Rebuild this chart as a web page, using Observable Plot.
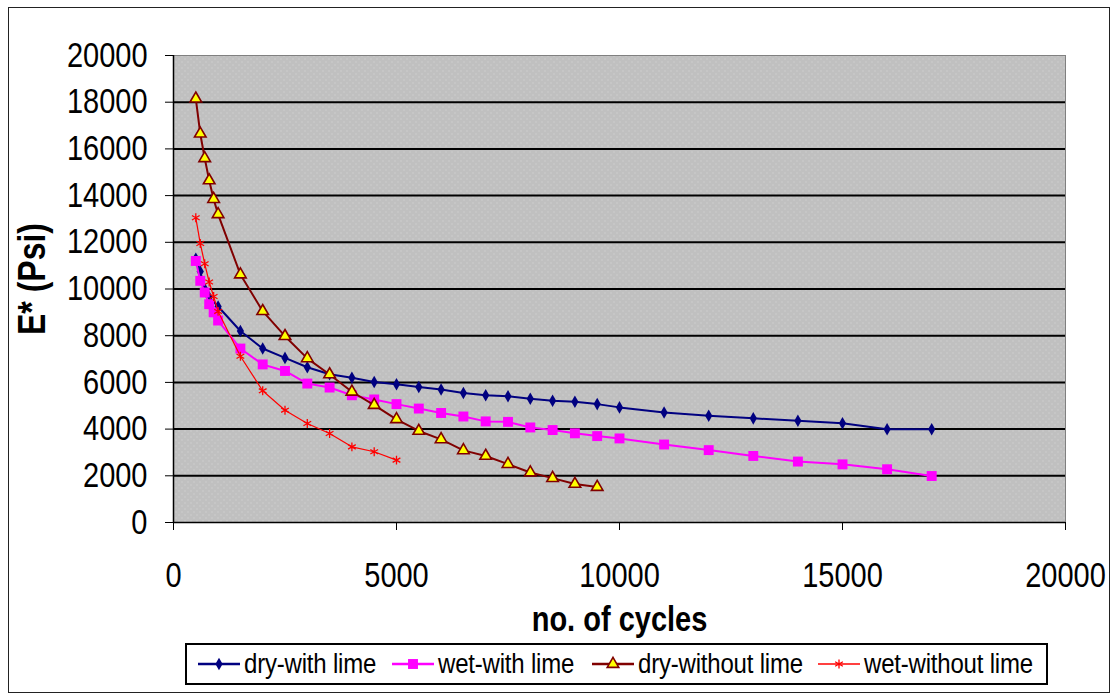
<!DOCTYPE html>
<html>
<head>
<meta charset="utf-8">
<script src="https://cdn.jsdelivr.net/npm/d3@7"></script>
<script src="https://cdn.jsdelivr.net/npm/@observablehq/plot@0.6"></script>
<style>
  html, body { margin: 0; padding: 0; background: #fff; }
  #wrap { position: relative; width: 1118px; height: 696px; overflow: hidden; font-family: "Liberation Sans", Arial, sans-serif; }
  #outer { position: absolute; left: 8px; top: 7px; width: 1102px; height: 686px; border: 1px solid #222; box-sizing: border-box; pointer-events: none; }
  #chart { position: absolute; left: 0; top: 0; }
  #legend { position: absolute; left: 185px; top: 643px; width: 863px; height: 42px; border: 2px solid #000; box-sizing: border-box; background: #fff; }
  .item { position: absolute; top: 0; height: 38px; display: flex; align-items: center; }
  .item span { display: inline-block; font-size: 24px; color: #000; white-space: nowrap; transform: scaleY(1.12); letter-spacing: -0.2px; }
  .item svg { margin-right: 3px; }
</style>
</head>
<body>
<svg width="0" height="0" style="position:absolute">
  <defs>
    <pattern id="dots" width="6" height="6" patternUnits="userSpaceOnUse">
      <rect width="6" height="6" fill="#c0c0c0"></rect>
      <rect x="1" y="1" width="1" height="1" fill="#d6d6d6"></rect>
      <rect x="4" y="4" width="1" height="1" fill="#d6d6d6"></rect>
    </pattern>
  </defs>
</svg>
<div id="wrap">
  <div id="outer"></div>
  <div id="chart"></div>
  <div id="legend"></div>
</div>
<script>
// ---- data ----
const seriesNames = ["dry-with lime", "wet-with lime", "dry-without lime", "wet-without lime"];

const cyclesDryWith = [500, 600, 700, 800, 1000, 1500, 2000, 2500, 3000, 3500, 4000, 4500, 5000, 5500, 6000, 6500, 7000, 7500, 8000, 8500, 9000, 9500, 10000, 11000, 12000, 13000, 14000, 15000, 16000, 17000];
const eDryWith = [11300, 10750, 10000, 9650, 9250, 8200, 7450, 7050, 6650, 6350, 6200, 6020, 5920, 5800, 5700, 5550, 5450, 5410, 5300, 5210, 5170, 5070, 4930, 4710, 4570, 4460, 4360, 4250, 3990, 3990];

const cyclesWetWith = [500, 600, 700, 800, 900, 1000, 1500, 2000, 2500, 3000, 3500, 4000, 4500, 5000, 5500, 6000, 6500, 7000, 7500, 8000, 8500, 9000, 9500, 10000, 11000, 12000, 13000, 14000, 15000, 16000, 17000];
const eWetWith = [11200, 10350, 9850, 9350, 9000, 8650, 7450, 6770, 6490, 5950, 5780, 5450, 5270, 5070, 4880, 4690, 4540, 4330, 4310, 4070, 3960, 3820, 3700, 3600, 3340, 3100, 2850, 2610, 2490, 2280, 1990];

const cyclesDryWithout = [500, 600, 700, 800, 900, 1000, 1500, 2000, 2500, 3000, 3500, 4000, 4500, 5000, 5500, 6000, 6500, 7000, 7500, 8000, 8500, 9000, 9500];
const eDryWithout = [18150, 16650, 15600, 14650, 13850, 13200, 10620, 9050, 7980, 7030, 6340, 5600, 5030, 4420, 3920, 3560, 3090, 2850, 2500, 2140, 1900, 1650, 1520];

const cyclesWetWithout = [500, 600, 700, 800, 900, 1000, 1500, 2000, 2500, 3000, 3500, 4000, 4500, 5000];
const eWetWithout = [13050, 11950, 11080, 10300, 9680, 9040, 7120, 5640, 4810, 4240, 3810, 3240, 3030, 2670];

const xTicks = [0, 5000, 10000, 15000, 20000];
const yTicks = [0, 2000, 4000, 6000, 8000, 10000, 12000, 14000, 16000, 18000, 20000];
const gridLines = [2000, 4000, 6000, 8000, 10000, 12000, 14000, 16000, 18000];
const xTitle = "no. of cycles";
const yTitle = "E* (Psi)";

// ---- styles ----
const styles = [
  {stroke: "#000080", fill: "#000080", symbol: "diamond", r: 3.8, lineWidth: 2, dotStroke: "none", dotStrokeWidth: 0},
  {stroke: "#ff00ff", fill: "#ff00ff", symbol: "square", r: 5.6, lineWidth: 2, dotStroke: "none", dotStrokeWidth: 0},
  {stroke: "#800000", fill: "#ffff00", symbol: "triangle", r: 4.3, lineWidth: 2, dotStroke: "#800000", dotStrokeWidth: 1.6},
  {stroke: "#ff0000", fill: "none", symbol: "asterisk", r: 4.2, lineWidth: 1.2, dotStroke: "#ff0000", dotStrokeWidth: 1.3}
];

const toRows = (xs, ys, name) => xs.map((x, i) => ({cycles: x, E: ys[i], series: name}));
const series = [
  toRows(cyclesDryWith, eDryWith, seriesNames[0]),
  toRows(cyclesWetWith, eWetWith, seriesNames[1]),
  toRows(cyclesDryWithout, eDryWithout, seriesNames[2]),
  toRows(cyclesWetWithout, eWetWithout, seriesNames[3])
];

const fontFam = '"Liberation Sans", Arial, sans-serif';

const marks = [
  Plot.frame({fill: "url(#dots)", stroke: "#808080"}),
  Plot.ruleY(gridLines, {stroke: "#000", strokeWidth: 2}),
  Plot.ruleX([0], {stroke: "#000", strokeWidth: 1.5}),
  Plot.ruleY([0], {stroke: "#000", strokeWidth: 1.5}),
  Plot.axisY({ticks: yTicks, tickSize: 8, tickPadding: 18, tickFormat: d => String(d), label: null, stroke: "#000", fill: "#000", fontSize: 29}),
  Plot.axisX({ticks: xTicks, tickSize: 8, tickPadding: 32, tickFormat: d => String(d), label: null, stroke: "#000", fill: "#000", fontSize: 29})
];
series.forEach((rows, i) => {
  const s = styles[i];
  marks.push(Plot.line(rows, {x: "cycles", y: "E", stroke: s.stroke, strokeWidth: s.lineWidth}));
  marks.push(Plot.dot(rows, {x: "cycles", y: "E", symbol: () => s.symbol, r: s.r, fill: s.fill, stroke: s.dotStroke, strokeWidth: s.dotStrokeWidth}));
});
marks.push(Plot.text([xTitle], {frameAnchor: "bottom", dy: 108, text: d => d, fontWeight: "bold", fontSize: 29, fill: "#000"}));
marks.push(Plot.text([yTitle], {frameAnchor: "left", dx: -141, dy: 46, rotate: -90, text: d => d, fontWeight: "bold", fontSize: 32, fill: "#000"}));

const chart = Plot.plot({
  width: 1118,
  height: 640,
  marginLeft: 173,
  marginRight: 53,
  marginTop: 55,
  marginBottom: 118,
  x: {domain: [0, 20000]},
  y: {domain: [0, 20000]},
  symbol: {type: "identity"},
  style: {fontFamily: fontFam, fontSize: "29px", background: "transparent", color: "#000", overflow: "visible"},
  marks
});

// stretch every text vertically (reference font is a tall, narrow face)
d3.select(chart).selectAll("text").each(function () {
  const t = d3.select(this);
  const tr = t.attr("transform");
  if (tr) {
    t.attr("transform", tr + " scale(1,1.2)");
  } else {
    const x = +t.attr("x") || 0, y = +t.attr("y") || 0;
    t.attr("x", null).attr("y", null).attr("transform", `translate(${x},${y}) scale(1,1.2)`);
  }
});
document.getElementById("chart").appendChild(chart);

// ---- legend ----
const legend = d3.select("#legend");
const itemLeft = [10, 204, 404, 630];
const symbolFor = {diamond: d3.symbolDiamond, square: d3.symbolSquare, triangle: d3.symbolTriangle, asterisk: d3.symbolAsterisk};
seriesNames.forEach((name, i) => {
  const s = styles[i];
  const item = legend.append("div").attr("class", "item").style("left", itemLeft[i] + "px");
  const svg = item.append("svg").attr("width", 44).attr("height", 24);
  svg.append("line").attr("x1", 1).attr("x2", 43).attr("y1", 12).attr("y2", 12)
    .attr("stroke", s.stroke).attr("stroke-width", s.lineWidth + 0.5);
  svg.append("path").attr("transform", "translate(22,12)")
    .attr("d", d3.symbol(symbolFor[s.symbol], Math.PI * s.r * s.r)())
    .attr("fill", s.fill).attr("stroke", s.dotStroke).attr("stroke-width", s.dotStrokeWidth);
  item.append("span").text(name);
});
</script>
</body>
</html>
